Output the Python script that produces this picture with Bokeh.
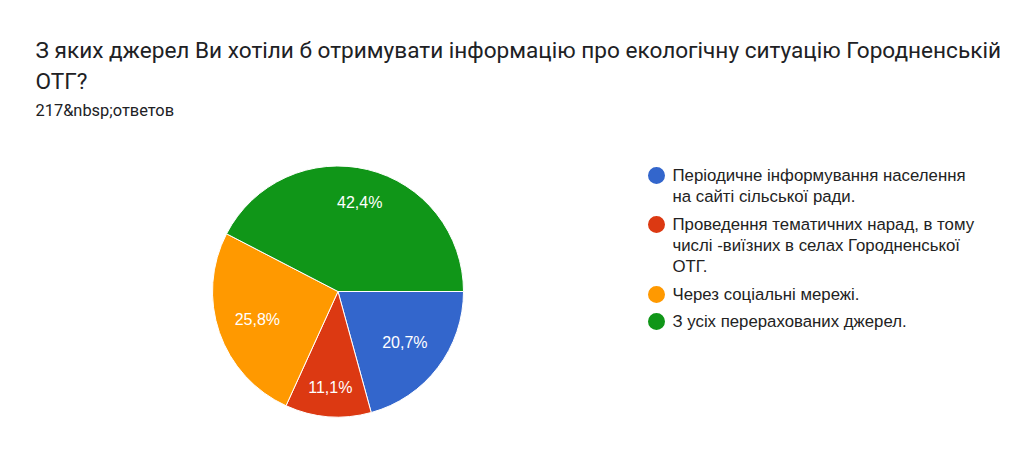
import math
from bokeh.plotting import figure
from bokeh.models import Range1d
from bokeh.core.properties import value
from bokeh.embed import file_html
from bokeh.resources import INLINE

# ---- data ----
title_lines = [
    "З яких джерел Ви хотіли б отримувати інформацію про екологічну ситуацію Городненській",
    "ОТГ?",
]
subtitle = "217&nbsp;ответов"
categories = [
    "Періодичне інформування населення на сайті сільської ради.",
    "Проведення тематичних нарад, в тому числі -виїзних в селах Городненської ОТГ.",
    "Через соціальні мережі.",
    "З усіх перерахованих джерел.",
]
legend_lines = [
    ["Періодичне інформування населення", "на сайті сільської ради."],
    ["Проведення тематичних нарад, в тому", "числі -виїзних в селах Городненської", "ОТГ."],
    ["Через соціальні мережі."],
    ["З усіх перерахованих джерел."],
]
counts = [45, 24, 56, 92]
colors = ["#3366cc", "#dc3912", "#ff9900", "#109618"]

# ---- layout (page pixels) ----
W, H = 1008, 448
label_radius = [0.67, 0.77, 0.68, 0.73]   # label distance from centre, fraction of R

def X(sx):
    return sx
def Y(sy):
    return H - sy

p = figure(width=W, height=H, output_backend="svg", toolbar_location=None,
           x_range=Range1d(0, W), y_range=Range1d(0, H), min_border=0,
           background_fill_color="white", border_fill_color="white")
p.axis.visible = False
p.grid.visible = False
p.outline_line_color = None

TITLE_FONT = value("Roboto")
CHART_FONT = value("Liberation Sans")

# title
p.text(x=[X(35)] * 2, y=[Y(49.5), Y(81)], text=title_lines, text_font=TITLE_FONT,
       text_font_size="22.6px", text_color="#202124", text_baseline="middle")
p.text(x=[X(35)], y=[Y(110)], text=[subtitle], text_font=TITLE_FONT,
       text_font_size="16.4px", text_color="#202124", text_baseline="middle")

# pie
cx, cy, R = X(337.5), Y(291), 125.5
total = sum(counts)
cum = [0.0]
for c in counts:
    cum.append(cum[-1] + c / total)
starts = [-2 * math.pi * cum[i + 1] for i in range(len(counts))]
ends = [-2 * math.pi * cum[i] for i in range(len(counts))]
p.wedge(x=[cx] * len(counts), y=[cy] * len(counts), radius=R,
        start_angle=starts, end_angle=ends, fill_color=colors,
        line_color="white", line_width=1)

# slice labels
lx, ly, lt = [], [], []
for i, c in enumerate(counts):
    mid = -2 * math.pi * (cum[i] + cum[i + 1]) / 2
    lx.append(cx + label_radius[i] * R * math.cos(mid))
    ly.append(cy + label_radius[i] * R * math.sin(mid))
    lt.append(f"{100 * c / total:.1f}%".replace(".", ","))
p.text(x=lx, y=ly, text=lt, text_font=CHART_FONT, text_font_size="16px",
       text_color="white", text_align="center", text_baseline="middle")

# legend
item_first_center = [175, 224, 294, 321]
line_gap = 21
mx, my, tx, ty, tt = [], [], [], [], []
for i, lines in enumerate(legend_lines):
    b = item_first_center[i]
    mx.append(X(656))
    my.append(Y(b))
    for j, ln in enumerate(lines):
        tx.append(X(672))
        ty.append(Y(b + j * line_gap))
        tt.append(ln)
p.scatter(x=mx, y=my, size=17, marker="circle", fill_color=colors, line_color=None)
p.text(x=tx, y=ty, text=tt, text_font=CHART_FONT, text_font_size="16.8px",
       text_color="#222222", text_baseline="middle")

open("out.html", "w").write(file_html(p, INLINE))
